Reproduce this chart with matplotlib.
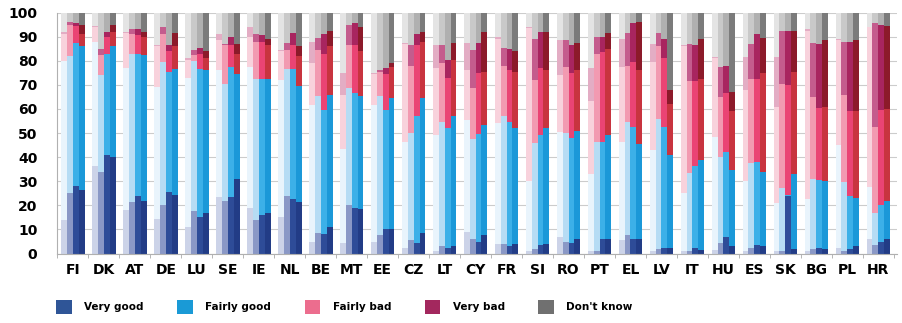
import numpy as np
import matplotlib
matplotlib.use("Agg")
import matplotlib.pyplot as plt
from matplotlib.patches import Patch

countries = ['FI', 'DK', 'AT', 'DE', 'LU', 'SE', 'IE', 'NL', 'BE', 'MT', 'EE', 'CZ', 'LT', 'CY',
             'FR', 'SI', 'RO', 'PT', 'EL', 'LV', 'IT', 'HU', 'ES', 'SK', 'BG', 'PL', 'HR']

# cumulative tops (%) per country, four survey waves each (oldest -> newest)
very_good_top = [
    [14, 25, 28, 26.5], [36.5, 34, 41, 40], [18, 21.5, 24, 22], [14.5, 20, 25.5, 24.5],
    [11, 17.5, 15, 17], [23.5, 22, 23.5, 31], [19, 14, 16, 17], [15, 24, 22.5, 21.5],
    [5, 8.5, 8, 11], [4.5, 20, 19, 18.5], [5, 7.5, 10, 10], [2.5, 5.5, 4.5, 8.5],
    [1, 3, 2.5, 3], [9, 6, 5, 7.5], [4, 4, 3, 4], [1, 2, 3.5, 4], [7, 5, 4.5, 6],
    [1, 1, 6, 6], [5.5, 7.5, 6, 6], [1, 2, 2.5, 2.5], [1, 1, 2.5, 1.5], [1.5, 4.5, 7, 3],
    [1, 2.5, 3.5, 3], [1, 1, 24, 2], [1, 2, 2.5, 2], [2.5, 1, 2, 3], [6, 3.5, 5, 6]]
fairly_good_top = [
    [80, 82, 87.5, 86], [88, 74, 83, 86], [77, 83, 83, 82.5], [69, 79.5, 75.5, 76.5],
    [73, 80, 76.5, 76], [76, 70.5, 77.5, 74.5], [77.5, 72.5, 72.5, 72.5], [72, 76.5, 76.5, 69.5],
    [61.5, 65.5, 59.5, 66], [43.5, 68.5, 66.5, 65.5], [61.5, 65.5, 59.5, 64.5], [46.5, 50, 57, 64.5],
    [49, 54.5, 52, 57], [55.5, 47.5, 49.5, 53.5], [54, 57, 54.5, 52], [30, 46, 49, 52],
    [50.5, 50, 48, 51], [33, 46.5, 46.5, 49], [46.5, 54.5, 52.5, 45.5], [43, 56, 52.5, 41],
    [25, 33.5, 36.5, 39], [48.5, 40, 42, 34.5], [30, 37.5, 38, 34], [21, 27, 24.5, 33],
    [22.5, 31, 30.5, 30], [45, 29.5, 24, 23], [27.5, 17, 20, 22]]
fairly_bad_top = [
    [91, 95, 94.5, 91], [94, 82.5, 90, 92], [91.5, 91, 90.5, 90], [86, 91, 84, 86],
    [80.5, 82.5, 83, 81], [88.5, 86.5, 86.5, 83], [90, 88, 88, 86.5], [84, 84.5, 86.5, 82],
    [79, 84.5, 83, 86], [66, 86.5, 86.5, 84], [74.5, 75.5, 74.5, 77.5], [87, 78, 86.5, 88],
    [77, 79, 73, 80.5], [76, 68.5, 75, 75.5], [89, 78, 76, 75.5], [93.5, 72, 77, 76],
    [74, 77.5, 75, 76], [63.5, 83, 83.5, 85], [77.5, 78, 79.5, 76], [79.5, 86, 81, 62],
    [86, 71.5, 71.5, 72.5], [81, 65, 66.5, 59], [68, 72.5, 72.5, 75], [61, 70.5, 70, 75.5],
    [92.5, 65, 60.5, 61], [88.5, 66, 59, 59], [94, 52.5, 59.5, 60]]
very_bad_top = [
    [92, 96, 95.5, 95], [94.5, 85, 92, 95], [92, 93, 93, 92], [86.5, 94, 86.5, 91.5],
    [81, 84.5, 85.5, 84], [91, 87, 90, 87], [94, 91, 90.5, 89], [84.5, 87.5, 91.5, 86],
    [88, 89.5, 91, 92.5], [75, 95, 95.5, 94], [75, 76, 77, 79], [87.5, 86.5, 91, 92],
    [86.5, 86.5, 80.5, 87.5], [87.5, 84.5, 87.5, 92], [90, 85.5, 85, 84], [94, 89, 92, 92],
    [88.5, 88.5, 86.5, 87.5], [77, 90, 90, 91.5], [89, 91.5, 95.5, 96], [87, 91.5, 89, 68],
    [86.5, 87, 86.5, 89], [81.5, 77.5, 78, 67], [81.5, 87, 91, 89.5], [81.5, 92.5, 92.5, 92.5],
    [93, 87.5, 87, 88.5], [89, 88, 88, 88.5], [94, 95.5, 95, 94.5]]
total_top = 100

labels = ['Very good', 'Fairly good', 'Fairly bad', 'Very bad', "Don't know"]
legend_colors = ['#2f5597', '#1a9ad6', '#ec6d8e', '#a3285e', '#707070']
# shade per wave, light -> dark
shades = [
    ['#ccd3e8', '#8a98c6', '#2e4c98', '#223c86'],
    ['#e9f4fc', '#b6dcf4', '#3cb0e8', '#1b98d8'],
    ['#f8d2dc', '#f29ab1', '#ea4474', '#c8343f'],
    ['#e3adc4', '#c45c8d', '#a8255f', '#8c1a2a'],
    ['#e4e4e4', '#c9c9c9', '#b0b0b0', '#7b7b7b'],
]

vg = np.array(very_good_top)
fg = np.array(fairly_good_top)
fb = np.array(fairly_bad_top)
vb = np.array(very_bad_top)
tops = [vg, fg, fb, vb, np.full_like(vg, total_top)]

fig = plt.figure(figsize=(9.02, 3.23), dpi=100)
ax = fig.add_axes([0.063, 0.215, 0.932, 0.746])

x = np.arange(len(countries))
w = 0.19
offsets = [-1.5 * w, -0.5 * w, 0.5 * w, 1.5 * w]

for k in range(4):
    bottom = np.zeros(len(countries))
    for c in range(5):
        top = tops[c][:, k]
        ax.bar(x + offsets[k], top - bottom, w, bottom=bottom,
               color=shades[c][k], linewidth=0, zorder=2)
        bottom = top

ax.set_ylim(0, 100)
ax.set_xlim(-0.52, 26.62)
ax.set_yticks(np.arange(0, 101, 10))
ax.set_xticks(x)
ax.set_xticklabels(countries, fontsize=10, fontweight='bold')
ax.set_xticks(np.arange(-0.5, 26.6, 1), minor=True)
for t in ax.get_yticklabels():
    t.set_fontsize(10)
    t.set_fontweight('bold')
ax.tick_params(axis='x', which='major', length=0, pad=7)
ax.tick_params(axis='x', which='minor', length=3, color='#aaaaaa')
ax.tick_params(axis='y', length=0, pad=14)
ax.yaxis.grid(True, color='#cccccc', lw=0.8, zorder=0)
ax.set_axisbelow(True)
for s in ['top', 'right']:
    ax.spines[s].set_visible(False)
for s in ['left', 'bottom']:
    ax.spines[s].set_color('#b0b0b0')
    ax.spines[s].set_linewidth(0.8)

handles = [Patch(facecolor=col, edgecolor='none') for col in legend_colors]
fig.legend(handles, labels, loc='lower left', bbox_to_anchor=(0.052, 0.0), ncol=5,
           frameon=False, prop={'size': 7.5, 'weight': 'bold'},
           handlelength=1.5, handleheight=1.6, handletextpad=1.2, columnspacing=3.2)

fig.savefig('out.png', dpi=100)
